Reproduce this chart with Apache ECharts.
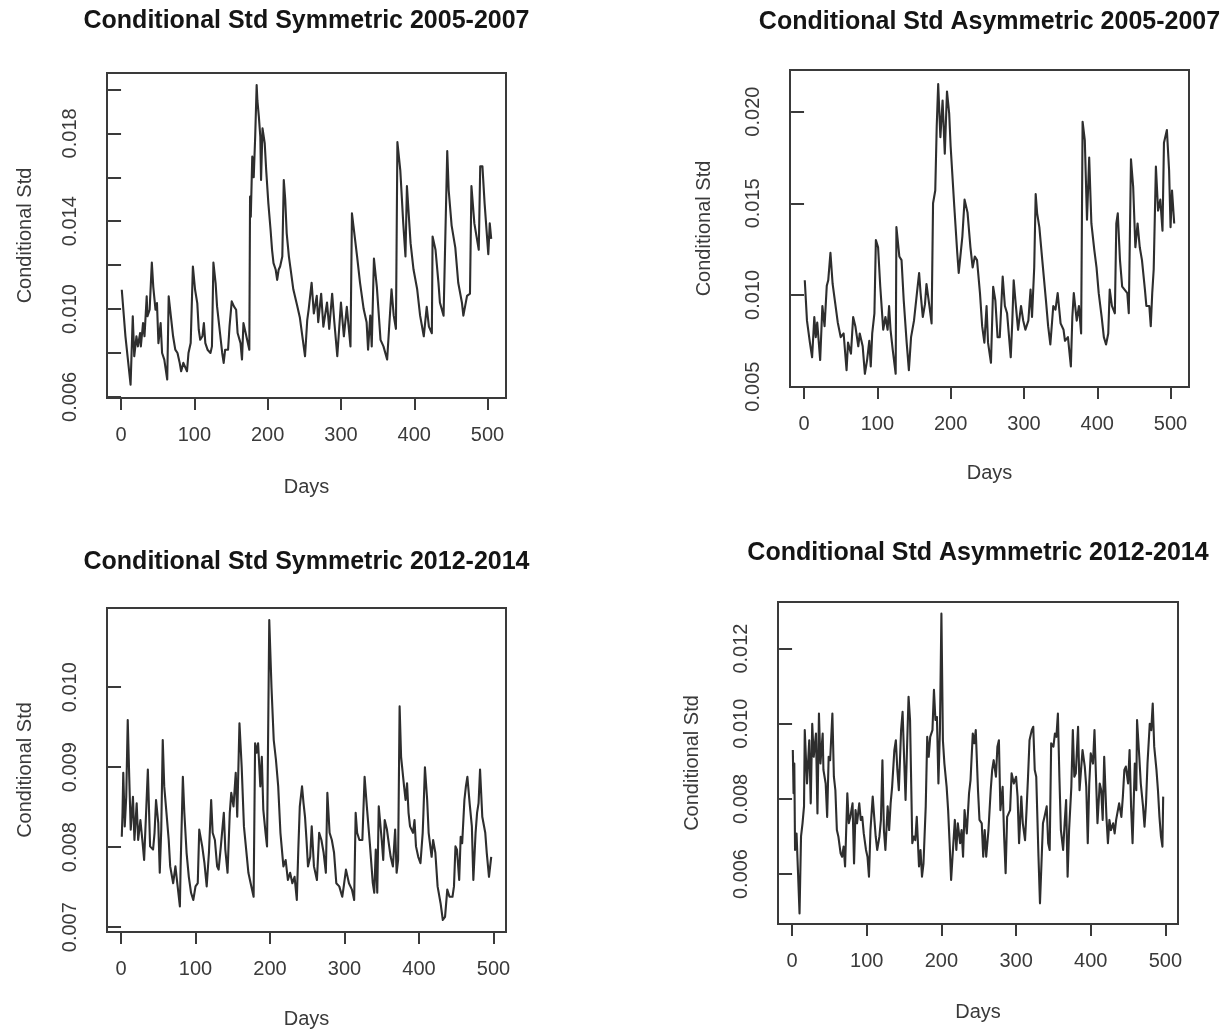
<!DOCTYPE html>
<html>
<head>
<meta charset="utf-8">
<title>Conditional Std</title>
<script src="https://cdn.jsdelivr.net/npm/echarts@6/dist/echarts.min.js"></script>
<style>
  html, body { margin: 0; padding: 0; background: #fff; }
  #chart { width: 1223px; height: 1032px; }
</style>
</head>
<body>
<div id="chart"></div>
<script>
// values (day index, conditional std)
const daysSym0507 = [1,6,13,16,18,21,23,26,27,30,32,35,36,39,42,44,47,49,51,54,56,59,63,65,68,71,74,77,80,82,85,87,90,92,95,98,101,104,106,108,111,113,115,118,122,124,126,129,131,135,138,140,142,146,148,151,154,157,159,163,165,167,170,172,175,176,177,179,181,183,185,186,188,190,191,193,196,198,201,204,206,208,211,213,215,217,220,222,224,226,229,231,235,240,244,248,251,254,256,260,263,267,269,273,276,281,284,288,291,295,300,304,308,313,315,317,322,326,331,335,337,340,342,345,349,354,358,363,365,369,372,375,377,381,385,388,390,395,399,404,408,413,417,420,424,425,429,433,435,440,445,447,451,456,460,465,467,472,476,478,482,485,488,490,493,496,501,503,505];
const stdSym0507 = [0.01088,0.00876,0.00656,0.00967,0.00785,0.00876,0.0083,0.00891,0.0083,0.00936,0.00876,0.01058,0.00967,0.00997,0.01212,0.011,0.00997,0.01027,0.00845,0.00936,0.008,0.0077,0.00679,0.01058,0.00967,0.00876,0.00815,0.008,0.00755,0.00717,0.00755,0.00747,0.00717,0.008,0.00845,0.01194,0.01088,0.01027,0.00906,0.0086,0.00876,0.00936,0.00845,0.00815,0.008,0.0083,0.01212,0.01118,0.01012,0.00891,0.008,0.00755,0.00815,0.00815,0.00921,0.01035,0.01012,0.00997,0.00891,0.00845,0.0077,0.00936,0.00891,0.0086,0.00815,0.01512,0.0142,0.01694,0.016,0.01785,0.0202,0.0195,0.01876,0.01785,0.01588,0.01823,0.01755,0.01633,0.0148,0.0136,0.0127,0.01209,0.01179,0.01133,0.01179,0.01194,0.01239,0.01588,0.01497,0.01345,0.01239,0.0119,0.0109,0.0102,0.0096,0.0086,0.00785,0.0095,0.01,0.0112,0.0098,0.0106,0.0094,0.0107,0.0092,0.0103,0.0091,0.0107,0.0094,0.00785,0.0103,0.00876,0.0101,0.0083,0.01436,0.0138,0.0124,0.0112,0.01,0.0094,0.00815,0.0097,0.0083,0.0123,0.011,0.0086,0.0083,0.0077,0.00876,0.0109,0.0097,0.0091,0.0176,0.0163,0.0139,0.0124,0.0156,0.013,0.0118,0.0109,0.0097,0.00876,0.0101,0.0092,0.0089,0.0133,0.0127,0.0112,0.0103,0.0097,0.0172,0.0154,0.0138,0.0128,0.0112,0.0103,0.0097,0.0106,0.0107,0.0156,0.0139,0.0133,0.0127,0.0165,0.0165,0.0148,0.0125,0.0139,0.0132];

const daysAsym0507 = [1,4,8,11,14,16,18,22,25,28,31,33,36,39,42,46,50,54,58,60,64,67,70,74,76,80,83,86,89,91,93,96,98,101,104,108,111,114,116,118,121,125,126,130,133,136,140,143,146,150,154,157,159,162,165,167,171,174,176,179,181,183,186,189,192,195,198,200,205,209,211,216,219,223,227,230,233,236,240,243,246,249,251,255,258,261,264,267,271,274,277,282,284,286,289,292,296,299,302,306,309,311,314,316,318,321,325,330,333,336,340,343,346,350,354,356,360,364,366,368,372,375,378,380,383,386,389,392,396,399,402,406,409,412,415,417,420,424,426,428,431,434,437,441,443,446,449,452,455,458,461,465,467,471,473,475,477,480,483,486,489,491,495,498,500,502,505];
const stdAsym0507 = [0.0108,0.0086,0.0074,0.0066,0.0088,0.0077,0.0085,0.00645,0.0094,0.0083,0.0105,0.0108,0.0123,0.0106,0.0097,0.0085,0.0077,0.0079,0.0059,0.0074,0.0068,0.0088,0.0083,0.0072,0.0079,0.0072,0.0057,0.00645,0.0075,0.0061,0.0079,0.009,0.013,0.0126,0.01045,0.0081,0.0088,0.0081,0.0094,0.0081,0.007,0.0057,0.0137,0.0121,0.0119,0.0097,0.0074,0.0059,0.0077,0.0086,0.0101,0.0112,0.0101,0.0088,0.0095,0.0106,0.0094,0.00845,0.015,0.0157,0.0192,0.0215,0.0186,0.0206,0.0177,0.0211,0.0199,0.0181,0.0148,0.0123,0.0112,0.0132,0.0152,0.0145,0.0126,0.0115,0.0121,0.0119,0.0101,0.0083,0.0074,0.0094,0.0074,0.0063,0.01045,0.0097,0.0077,0.0077,0.011,0.0094,0.009,0.0066,0.00845,0.0108,0.0094,0.0081,0.0094,0.0086,0.0081,0.0086,0.0103,0.0088,0.0115,0.0155,0.01445,0.0137,0.0119,0.0097,0.0083,0.0073,0.0094,0.0092,0.0101,0.00845,0.0081,0.0075,0.0077,0.0061,0.0088,0.0101,0.0086,0.0094,0.0079,0.01945,0.01845,0.0141,0.0175,0.0139,0.01245,0.0115,0.0101,0.0088,0.0077,0.0073,0.0079,0.0103,0.0094,0.009,0.0139,0.01445,0.0119,0.01045,0.0103,0.0101,0.009,0.0174,0.0159,0.0126,0.0139,0.0126,0.0119,0.0103,0.0094,0.0094,0.0083,0.0101,0.0114,0.017,0.0146,0.0152,0.0135,0.0183,0.019,0.0168,0.0137,0.0157,0.0139];

const daysSym1214 = [1,2,3,5,7,9,11,13,16,18,21,23,26,29,31,34,36,39,43,45,47,50,52,54,56,58,61,64,66,70,73,76,79,80,83,85,88,91,94,97,100,103,105,109,112,115,118,121,123,126,129,131,134,138,140,143,146,148,151,154,156,159,162,165,168,171,174,178,180,182,184,187,189,191,194,196,199,202,205,208,211,214,218,221,224,227,230,233,236,238,240,243,245,247,249,251,254,256,259,263,266,269,272,275,277,280,283,286,289,293,297,299,302,306,310,313,315,317,320,324,327,330,334,338,340,342,344,346,350,352,354,357,360,362,365,368,370,372,374,376,380,382,384,386,388,392,394,396,399,402,405,406,408,411,413,417,419,422,425,429,432,435,438,441,445,447,449,451,454,456,458,461,463,465,468,471,473,476,478,480,482,485,487,489,491,494,497];
const stdSym1214 = [0.00813,0.00843,0.00893,0.00826,0.00863,0.00959,0.00888,0.00822,0.00863,0.00809,0.00855,0.00809,0.00834,0.00805,0.00784,0.00851,0.00897,0.00801,0.00797,0.00818,0.00859,0.0083,0.00768,0.00822,0.00934,0.00876,0.00843,0.00809,0.00776,0.00755,0.00776,0.00751,0.00726,0.00776,0.00888,0.00843,0.00793,0.00763,0.00743,0.00734,0.00751,0.00755,0.00822,0.00801,0.0078,0.00751,0.00793,0.00859,0.00818,0.00809,0.00776,0.00772,0.00801,0.00843,0.00797,0.00768,0.00843,0.00868,0.00851,0.00893,0.00838,0.00955,0.009,0.00826,0.00797,0.00768,0.00755,0.00738,0.0093,0.00918,0.0093,0.00876,0.00913,0.00847,0.00818,0.00801,0.01084,0.01,0.00934,0.00909,0.00876,0.00818,0.00776,0.00784,0.00759,0.00768,0.00755,0.00763,0.00734,0.00797,0.00851,0.00876,0.00855,0.00838,0.00809,0.00776,0.00788,0.00826,0.00776,0.00759,0.00818,0.00809,0.00793,0.00768,0.00868,0.00818,0.00809,0.00793,0.00755,0.00751,0.00738,0.00751,0.00772,0.00755,0.00747,0.00734,0.00843,0.00818,0.00809,0.00809,0.00888,0.00851,0.00805,0.00755,0.00743,0.00797,0.00743,0.00851,0.00809,0.00784,0.00834,0.00822,0.00801,0.00788,0.00776,0.00822,0.00768,0.00784,0.00976,0.00913,0.00876,0.00859,0.0088,0.00843,0.00826,0.00818,0.00834,0.00801,0.00788,0.0078,0.00818,0.00843,0.009,0.00859,0.00818,0.00788,0.00809,0.00793,0.00751,0.0073,0.00709,0.00713,0.00747,0.00738,0.00738,0.00751,0.00801,0.00797,0.00759,0.00813,0.00805,0.00859,0.00876,0.00888,0.00855,0.00826,0.00759,0.00818,0.00843,0.00855,0.00897,0.00838,0.00838,0.00818,0.00793,0.00763,0.00788];

const daysAsym1214 = [1,2,3,4,6,8,10,12,14,16,17,20,23,25,27,29,32,34,36,38,41,42,45,47,49,51,54,56,58,60,62,65,67,69,71,74,76,78,81,83,85,87,90,92,94,96,99,101,103,105,108,110,112,114,117,119,121,123,125,128,130,132,134,137,139,141,143,146,148,150,152,154,156,158,161,163,165,167,170,172,174,176,179,181,183,185,188,190,192,194,196,198,200,202,204,207,209,211,213,216,218,220,222,225,227,229,231,234,237,239,242,244,246,249,251,254,256,258,260,263,266,268,270,273,275,277,279,282,284,286,288,292,294,297,300,302,304,307,309,312,314,316,318,321,323,325,327,330,332,334,336,338,341,343,345,347,350,352,354,356,358,360,363,365,367,369,371,374,376,378,380,383,385,387,389,392,394,396,398,400,403,405,407,409,412,414,416,418,421,423,425,427,430,432,434,436,438,441,443,445,447,450,452,454,456,459,461,462,465,467,470,472,474,476,479,481,483,485,488,490,492,494,496,497];
const stdAsym1214 = [0.0093,0.00815,0.00894,0.00664,0.00708,0.00602,0.00495,0.007,0.00735,0.0078,0.00983,0.00841,0.00956,0.00788,0.01,0.00912,0.00974,0.00761,0.01027,0.00894,0.00974,0.00877,0.00841,0.00752,0.00912,0.00903,0.01027,0.00859,0.00823,0.00717,0.007,0.00655,0.00646,0.00673,0.0062,0.00815,0.00735,0.00752,0.00788,0.00628,0.0077,0.00735,0.00788,0.00744,0.00752,0.00708,0.00664,0.00646,0.00593,0.00717,0.00806,0.00752,0.007,0.00664,0.007,0.00744,0.00903,0.00717,0.00664,0.0078,0.00717,0.00788,0.00832,0.0093,0.00956,0.00877,0.00823,0.00983,0.01032,0.00912,0.00797,0.00939,0.01072,0.0101,0.00682,0.007,0.0069,0.00752,0.0062,0.00664,0.00593,0.00628,0.0078,0.00965,0.00912,0.00965,0.00983,0.0109,0.0101,0.01018,0.00841,0.00983,0.01293,0.00956,0.00894,0.00832,0.0077,0.00682,0.00584,0.00682,0.00744,0.00664,0.00735,0.00682,0.00717,0.00646,0.0077,0.00708,0.00815,0.0085,0.00974,0.00948,0.00983,0.00823,0.00744,0.00735,0.00646,0.00717,0.00646,0.00717,0.00823,0.00877,0.00903,0.00859,0.00939,0.00956,0.0077,0.00832,0.007,0.00602,0.00752,0.0077,0.00868,0.00841,0.00859,0.00806,0.00682,0.00806,0.00735,0.0069,0.0077,0.00859,0.00956,0.00983,0.00992,0.00877,0.00859,0.00646,0.00522,0.00628,0.00735,0.00752,0.0078,0.00682,0.00664,0.00948,0.00939,0.00974,0.00965,0.01027,0.00859,0.00717,0.00664,0.00735,0.00797,0.00593,0.00717,0.00832,0.00983,0.00859,0.00868,0.00992,0.00823,0.00877,0.0093,0.00886,0.00832,0.00682,0.00841,0.00921,0.00894,0.00983,0.00859,0.00735,0.00841,0.00823,0.00744,0.00912,0.00752,0.00682,0.00744,0.00717,0.00735,0.00708,0.00744,0.00744,0.00788,0.00752,0.00806,0.00877,0.00886,0.00841,0.0093,0.0078,0.00682,0.00894,0.00823,0.0101,0.00912,0.00841,0.0078,0.00726,0.00788,0.00894,0.01,0.00983,0.01054,0.00939,0.00877,0.00823,0.00752,0.007,0.00673,0.00806];

// tick positions
const dayTicks = [0, 100, 200, 300, 400, 500];
const yTicksSym0507 = [0.006, 0.008, 0.010, 0.012, 0.014, 0.016, 0.018, 0.020];
const yLabelsSym0507 = [0.006, 0.010, 0.014, 0.018];
const yTicksAsym0507 = [0.005, 0.010, 0.015, 0.020];
const yTicksSym1214 = [0.007, 0.008, 0.009, 0.010];
const yTicksAsym1214 = [0.006, 0.008, 0.010, 0.012];

const FONT = '"Liberation Sans", Arial, Helvetica, sans-serif';
const INK = '#3a3a3a';

const panels = [
  { title: 'Conditional Std Symmetric 2005-2007', days: daysSym0507, vals: stdSym0507,
    box: [107, 73, 399, 325], titleTop: 9, xr: [-19.16, 525.16], yr: [0.00595, 0.02075],
    yTicks: yTicksSym0507, yLabels: yLabelsSym0507, yGap: 72, xGap: 79 },
  { title: 'Conditional Std Asymmetric 2005-2007', days: daysAsym0507, vals: stdAsym0507,
    box: [790, 70, 399, 317], titleTop: 10, xr: [-19.16, 525.16], yr: [0.00498, 0.02227],
    yTicks: yTicksAsym0507, yLabels: yTicksAsym0507, yGap: 76, xGap: 76 },
  { title: 'Conditional Std Symmetric 2012-2014', days: daysSym1214, vals: stdSym1214,
    box: [107, 608, 399, 324], titleTop: 550, xr: [-18.84, 516.84], yr: [0.00694, 0.01099],
    yTicks: yTicksSym1214, yLabels: yTicksSym1214, yGap: 72, xGap: 77 },
  { title: 'Conditional Std Asymmetric 2012-2014', days: daysAsym1214, vals: stdAsym1214,
    box: [778, 602, 400, 322], titleTop: 541, xr: [-18.84, 516.84], yr: [0.00467, 0.01324],
    yTicks: yTicksAsym1214, yLabels: yTicksAsym1214, yGap: 76, xGap: 78 }
];

const tickStyle = { color: INK, width: 2 };
const labelStyle = { fontSize: 20, color: INK, fontFamily: FONT };

const option = {
  backgroundColor: '#fff',
  animation: false,
  title: panels.map(p => ({
    text: p.title,
    left: p.box[0] + p.box[2] / 2,
    top: p.titleTop,
    textAlign: 'center',
    padding: 0,
    textStyle: { fontSize: 25, fontWeight: 'bold', color: '#151515', fontFamily: FONT }
  })),
  grid: panels.map(p => ({
    left: p.box[0], top: p.box[1], width: p.box[2], height: p.box[3],
    show: true, borderColor: INK, borderWidth: 2,
    containLabel: false, outerBoundsMode: 'none'
  })),
  xAxis: panels.map((p, i) => ({
    type: 'value', gridIndex: i, min: p.xr[0], max: p.xr[1],
    axisLine: { show: false },
    splitLine: { show: false },
    axisTick: { show: true, inside: false, length: 12, customValues: dayTicks, lineStyle: tickStyle },
    axisLabel: Object.assign({ customValues: dayTicks, margin: 27 }, labelStyle),
    name: 'Days', nameLocation: 'middle', nameGap: p.xGap,
    nameTextStyle: labelStyle
  })),
  yAxis: panels.map((p, i) => ({
    type: 'value', gridIndex: i, min: p.yr[0], max: p.yr[1],
    axisLine: { show: false },
    splitLine: { show: false },
    axisTick: { show: true, inside: false, length: 13, customValues: p.yTicks, lineStyle: tickStyle },
    axisLabel: Object.assign({ customValues: p.yLabels, margin: 27, rotate: 90,
      formatter: v => v.toFixed(3) }, labelStyle),
    name: 'Conditional Std', nameLocation: 'middle', nameGap: p.yGap, nameRotate: 90,
    nameTextStyle: labelStyle
  })),
  series: panels.map((p, i) => ({
    type: 'line', xAxisIndex: i, yAxisIndex: i,
    data: p.days.map((d, k) => [d, p.vals[k]]),
    showSymbol: false, symbol: 'none',
    lineStyle: { color: '#2e2e2e', width: 2.1, join: 'round' }
  }))
};

const chart = echarts.init(document.getElementById('chart'));
chart.setOption(option);
</script>
</body>
</html>
